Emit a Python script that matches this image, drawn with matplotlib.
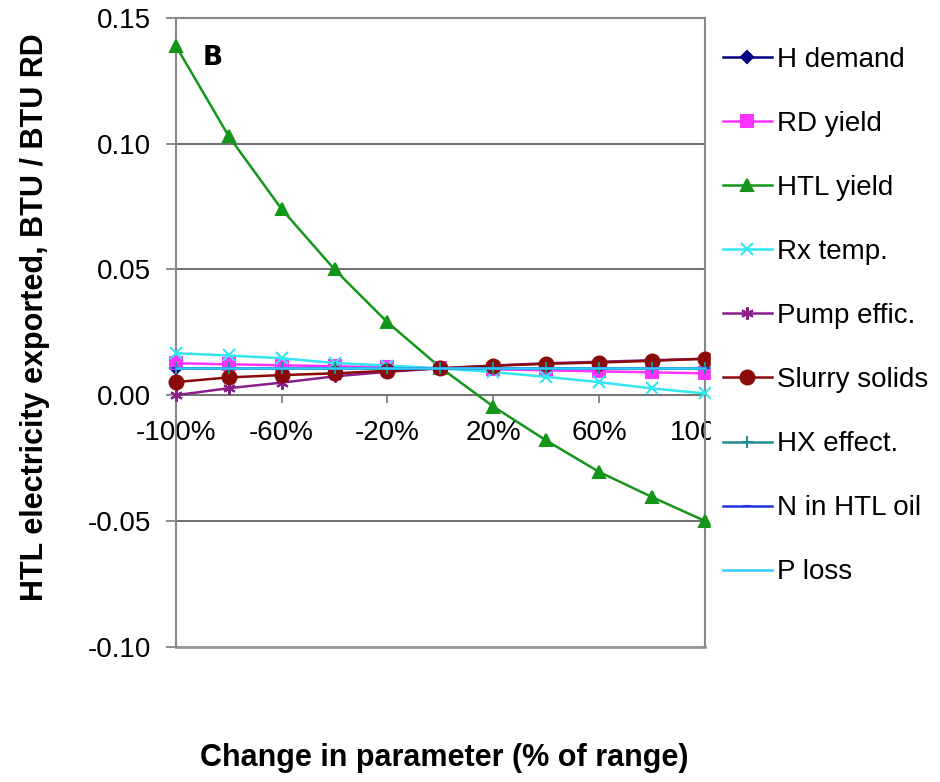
import numpy as np
import matplotlib.pyplot as plt

plt.rcParams['font.family'] = ['Liberation Sans', 'DejaVu Sans']

# Change in parameter, % of range
pct = [-100, -80, -60, -40, -20, 0, 20, 40, 60, 80, 100]
tick_labels = ['-100%', '-60%', '-20%', '20%', '60%', '100%']

# HTL electricity exported, BTU / BTU RD
h_demand = [0.0107, 0.0107, 0.0107, 0.0107, 0.0107, 0.0107, 0.0107, 0.0107, 0.0107, 0.0107, 0.0107]
rd_yield = [0.0127, 0.0123, 0.0119, 0.0115, 0.0111, 0.0107, 0.0103, 0.0099, 0.0095, 0.0091, 0.0087]
htl_yield = [0.139, 0.103, 0.074, 0.050, 0.029, 0.011, -0.0045, -0.018, -0.0305, -0.0405, -0.050]
rx_temp = [0.0167, 0.0158, 0.0147, 0.0128, 0.0118, 0.0107, 0.0092, 0.0073, 0.0052, 0.0027, 0.0007]
pump_effic = [0.0, 0.0028, 0.005, 0.0075, 0.0093, 0.0107, 0.0118, 0.0127, 0.0133, 0.0139, 0.0145]
slurry_solids = [0.0052, 0.0071, 0.008, 0.0087, 0.0097, 0.0107, 0.0117, 0.0125, 0.013, 0.0137, 0.0145]
hx_effect = [0.0107, 0.0107, 0.0107, 0.0107, 0.0107, 0.0107, 0.0107, 0.0107, 0.0107, 0.0107, 0.0107]
n_in_oil = [0.0107, 0.0107, 0.0107, 0.0107, 0.0107, 0.0107, 0.0107, 0.0107, 0.0107, 0.0107, 0.0107]
p_loss = [0.0107, 0.0107, 0.0107, 0.0107, 0.0107, 0.0107, 0.0107, 0.0107, 0.0107, 0.0107, 0.0107]

series = [
    ('H demand', h_demand, '#000080', 'D', 6),
    ('RD yield', rd_yield, '#ff33ff', 's', 9),
    ('HTL yield', htl_yield, '#15961a', '^', 9),
    ('Rx temp.', rx_temp, '#33e6f0', 'x', 9),
    ('Pump effic.', pump_effic, '#8a1f8a', (6, 2, 0), 9),
    ('Slurry solids', slurry_solids, '#8b0a0a', 'o', 10),
    ('HX effect.', hx_effect, '#1f8f8f', '+', 9),
    ('N in HTL oil', n_in_oil, '#2233dd', '_', 6),
    ('P loss', p_loss, '#33ccf5', None, 0),
]

fig = plt.figure(figsize=(9.4, 7.82), dpi=100)
ax = fig.add_axes([0.187, 0.173, 0.563, 0.804])

x = np.arange(len(pct))
for name, vals, col, mk, ms in series:
    ax.plot(x, vals, color=col, lw=1.8, marker=mk, ms=ms, mew=1.5,
            mfc=col, mec=col, label=name, clip_on=False, zorder=3)

ax.set_xlim(0, len(pct) - 1)
ax.set_ylim(-0.10, 0.15)
ax.set_yticks([-0.10, -0.05, 0.0, 0.05, 0.10, 0.15])
ax.set_yticklabels(['-0.10', '-0.05', '0.00', '0.05', '0.10', '0.15'], fontsize=20)
ax.yaxis.grid(True, color='#555555', lw=1.2)
ax.set_axisbelow(True)

# category axis crosses at zero, labels every other category
ax.spines['bottom'].set_position(('data', 0))
ax.spines['bottom'].set_color('#777777')
ax.spines['bottom'].set_linewidth(1.5)
ax.set_xticks(x[::2])
ax.set_xticklabels(tick_labels, fontsize=20)
ax.tick_params(axis='x', direction='out', length=6, width=1.2, color='#777777', pad=12)
ax.tick_params(axis='y', direction='out', length=7, width=1.2, color='#777777', pad=11)
for side in ['left', 'top', 'right']:
    ax.spines[side].set_color('#888888')
    ax.spines[side].set_linewidth(1.5)
ax.axhline(-0.10, color='#999999', lw=2, clip_on=False)

ax.set_ylabel('HTL electricity exported, BTU / BTU RD', fontsize=22,
              fontweight='bold', labelpad=27)
ax.yaxis.label.set_y(0.524)
fig.text(0.473, 0.012, 'Change in parameter (% of range)', fontsize=22,
         fontweight='bold', ha='center', va='bottom')
ax.text(0.05, 0.925, 'B', transform=ax.transAxes, fontsize=19,
        fontweight='bold', family=['DejaVu Sans'])

handles, labels = ax.get_legend_handles_labels()
leg = fig.legend(handles, labels, loc='upper left', bbox_to_anchor=(0.756, 0.956),
                 fontsize=20, frameon=True, facecolor='white', edgecolor='white',
                 framealpha=1, fancybox=False, handlelength=1.75, handletextpad=0.2,
                 labelspacing=1.37, borderaxespad=0, borderpad=0.45)

fig.savefig('out.png', dpi=100)
